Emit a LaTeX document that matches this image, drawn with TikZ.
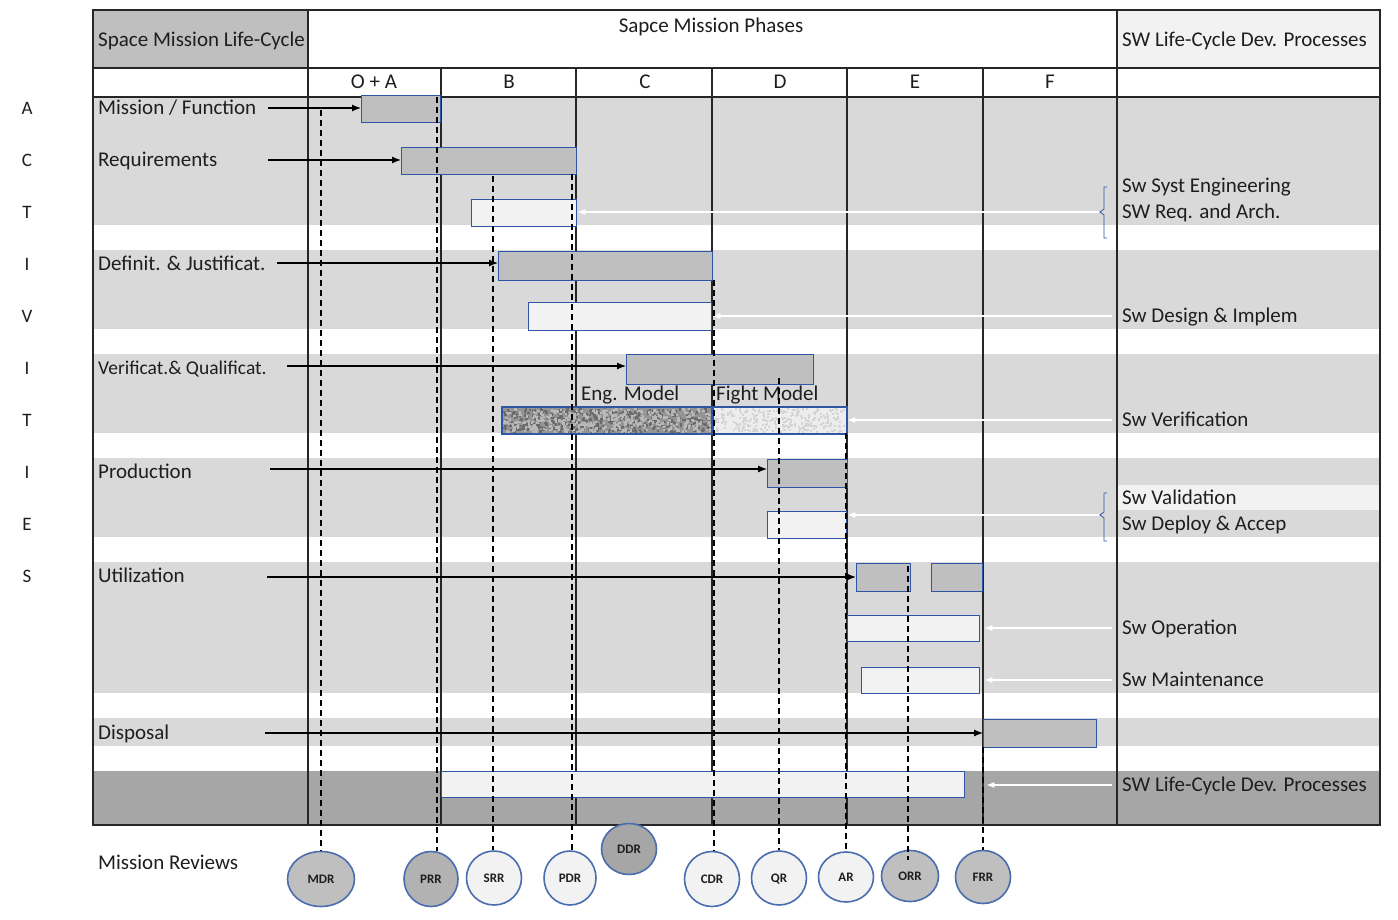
\documentclass[tikz,border=0pt]{standalone}
\usepackage{fontspec}
\setmainfont{Carlito}
\usetikzlibrary{arrows.meta,shapes.geometric}
\definecolor{band}{HTML}{D9D9D9}
\definecolor{bargray}{HTML}{BFBFBF}
\definecolor{darkband}{HTML}{A6A6A6}
\definecolor{lightfill}{HTML}{F2F2F2}
\definecolor{barblue}{HTML}{2F55A4}
\definecolor{circblue}{HTML}{4A6DB0}
\definecolor{txt}{HTML}{1E1E1E}
\begin{document}
\begin{tikzpicture}[x=1pt,y=-1pt,
  every node/.style={font=\fontsize{21}{25}\selectfont, text=txt},
  lbl/.style={anchor=west, inner sep=0pt, text height=13.5pt, text depth=0pt},
  ctr/.style={inner sep=0pt, text height=13.5pt, text depth=0pt},
  letter/.style={ctr, font=\fontsize{19}{22}\selectfont},
  bar/.style={draw=barblue, line width=1.3pt, fill=bargray, anchor=north west, inner sep=0pt},
  lbar/.style={bar, fill=lightfill},
  rev/.style={ellipse, draw=circblue, line width=1.6pt, inner sep=0pt, text height=9pt, text depth=0pt, font=\bfseries\fontsize{13}{15}\selectfont},
  revg/.style={rev, fill=bargray},
  revl/.style={rev, fill=lightfill},
  barrow/.style={line width=1.2pt, -{Latex[length=9pt,width=7pt]}},
  warrow/.style={white, line width=1.1pt, -{Latex[length=8pt,width=6pt]}},
  dline/.style={line width=1.3pt, dash pattern=on 6pt off 4pt},
  tline/.style={line width=1.3pt, draw=black!85},
  brace/.style={draw=barblue, line width=0.8pt},
]
\useasboundingbox (0,0) rectangle (1398,920);
\fill[white] (0,0) rectangle (1398,920);

% bands
\fill[band] (93,97) rectangle (1380,225);
\fill[band] (93,250) rectangle (1380,329);
\fill[band] (93,354) rectangle (1380,433);
\fill[band] (93,458) rectangle (1380,537);
\fill[band] (93,562) rectangle (1380,693);
\fill[band] (93,718) rectangle (1380,746);
\fill[darkband] (93,771) rectangle (1380,825);
\fill[lightfill] (1117,485) rectangle (1380,510);

% header cells
\fill[bargray] (93,10) rectangle (308,68);
\fill[lightfill] (1117,10) rectangle (1380,68);

% table lines
\draw[tline] (93,10) rectangle (1380,825);
\draw[tline] (93,68) -- (1380,68);
\draw[tline] (93,97) -- (1380,97);
\draw[tline] (308,10) -- (308,825);
\draw[tline] (1117,10) -- (1117,825);
\foreach \x in {441,576,712,847,983} \draw[tline] (\x,68) -- (\x,825);

% header texts
\node[lbl] (hsm) at (98,40) {Space Mission Life-Cycle};
\node[ctr] (hph) at (711,26) {Sapce Mission Phases};
\node[lbl] (hsw) at (1122,40) {SW Life-Cycle Dev. Processes};
\node[ctr] (pOA) at (374,82) {O + A};
\node[ctr] (pB) at (509,82) {B};
\node[ctr] (pC) at (645,82) {C};
\node[ctr] (pD) at (780,82) {D};
\node[ctr] (pE) at (915,82) {E};
\node[ctr] (pF) at (1050,82) {F};

% ACTIVITIES letters
\node[letter] (a1) at (27,108) {A};
\node[letter] (a2) at (27,160) {C};
\node[letter] (a3) at (27,212) {T};
\node[letter] (a4) at (27,264) {I};
\node[letter] (a5) at (27,316) {V};
\node[letter] (a6) at (27,368) {I};
\node[letter] (a7) at (27,420) {T};
\node[letter] (a8) at (27,472) {I};
\node[letter] (a9) at (27,524) {E};
\node[letter] (a10) at (27,576) {S};

% activity labels
\node[lbl] (lmf) at (98,108) {Mission / Function};
\node[lbl] (lreq) at (98,160) {Requirements};
\node[lbl] (ldef) at (98,264) {Definit. \& Justificat.};
\node[lbl, font=\fontsize{19.5}{23}\selectfont] (lver) at (98,368) {Verificat.\& Qualificat.};
\node[lbl] (lprod) at (98,472) {Production};
\node[lbl] (luti) at (98,576) {Utilization};
\node[lbl] (ldisp) at (98,733) {Disposal};
\node[lbl] (lrev) at (98,863) {Mission Reviews};

% bars
\node[bar, minimum width=79pt, minimum height=27pt] (bmf) at (361,95) {};
\node[bar, minimum width=175pt, minimum height=27pt] (breq) at (401,147) {};
\node[lbar, minimum width=105pt, minimum height=27pt] (bswreq) at (471,199) {};
\node[bar, minimum width=214pt, minimum height=29pt] (bdef) at (498,251) {};
\node[lbar, minimum width=183pt, minimum height=28pt] (bswdes) at (528,302) {};
\node[bar, minimum width=187pt, minimum height=30pt] (bver) at (626,354) {};
\node[bar, fill=black!42, minimum width=210pt, minimum height=26pt] (beng) at (502,407) {};
\node[lbar, fill=black!7, minimum width=134pt, minimum height=26pt] (bfm) at (712,407) {};
\node[bar, minimum width=80pt, minimum height=28pt] (bprod) at (767,459) {};
\node[lbar, minimum width=79pt, minimum height=27pt] (bswdep) at (767,511) {};
\node[bar, minimum width=54pt, minimum height=28pt] (but1) at (856,563) {};
\node[bar, minimum width=51pt, minimum height=28pt] (but2) at (931,563) {};
\node[lbar, minimum width=132pt, minimum height=26pt] (bswop) at (847,615) {};
\node[lbar, minimum width=118pt, minimum height=26pt] (bswmt) at (861,667) {};
\node[bar, minimum width=113pt, minimum height=28pt] (bdisp) at (983,719) {};
\node[lbar, minimum width=523pt, minimum height=26pt] (bswlc) at (441,771) {};

% textures
\pgfmathsetseed{7}
\foreach \i in {1,...,420}{
  \pgfmathsetmacro{\px}{503+207*rnd}
  \pgfmathsetmacro{\py}{408+23*rnd}
  \fill[black!58] (\px,\py) rectangle ++(2.4,2.4);
}
\foreach \i in {1,...,380}{
  \pgfmathsetmacro{\px}{503+207*rnd}
  \pgfmathsetmacro{\py}{408+23*rnd}
  \fill[black!28] (\px,\py) rectangle ++(2.4,2.4);
}
\foreach \i in {1,...,300}{
  \pgfmathsetmacro{\px}{713+131*rnd}
  \pgfmathsetmacro{\py}{408+23*rnd}
  \fill[black!17] (\px,\py) rectangle ++(2,2);
}
\draw[draw=barblue, line width=1.3pt] (beng.north west) rectangle (beng.south east);
\draw[draw=barblue, line width=1.3pt] (bfm.north west) rectangle (bfm.south east);
\node[lbl] (teng) at (581,394) {Eng. Model};
\node[lbl] (tfm) at (716,394) {Fight Model};

% black arrows
\coordinate (smf) at (268,108);
\coordinate (sreq) at (268,160);
\coordinate (sdef) at (277,263);
\coordinate (sver) at (287,366);
\coordinate (sprod) at (270,469);
\coordinate (suti) at (267,577);
\coordinate (sdisp) at (265,733);
\draw[barrow] (smf) -- (smf -| bmf.west);
\draw[barrow] (sreq) -- (sreq -| breq.west);
\draw[barrow] (sdef) -- (sdef -| bdef.west);
\draw[barrow] (sver) -- (sver -| bver.west);
\draw[barrow] (sprod) -- (sprod -| bprod.west);
\draw[barrow] (suti) -- (suti -| but1.west);
\draw[barrow] (sdisp) -- (sdisp -| bdisp.west);

% right labels
\node[lbl] (rse) at (1122,186) {Sw Syst Engineering};
\node[lbl] (rra) at (1122,212) {SW Req. and Arch.};
\node[lbl] (rdi) at (1122,316) {Sw Design \& Implem};
\node[lbl] (rve) at (1122,420) {Sw Verification};
\node[lbl] (rva) at (1122,498) {Sw Validation};
\node[lbl] (rde) at (1122,524) {Sw Deploy \& Accep};
\node[lbl] (rop) at (1122,628) {Sw Operation};
\node[lbl] (rma) at (1122,680) {Sw Maintenance};
\node[lbl] (rlc) at (1122,785) {SW Life-Cycle Dev. Processes};

% braces
\draw[brace] (1107,187) -- (1104,187) -- (1104,209) -- (1100,212) -- (1104,215) -- (1104,238) -- (1107,238);
\draw[brace] (1107,493) -- (1104,493) -- (1104,512) -- (1100,515) -- (1104,518) -- (1104,541) -- (1107,541);

% white arrows
\coordinate (wra) at (1099,212);
\coordinate (wdi) at (1112,316);
\coordinate (wve) at (1112,420);
\coordinate (wde) at (1099,515);
\coordinate (wop) at (1112,628);
\coordinate (wma) at (1112,680);
\coordinate (wlc) at (1112,785);
\draw[warrow] (wra) -- (wra -| bswreq.east);
\draw[warrow] (wdi) -- (wdi -| bswdes.east);
\draw[warrow] (wve) -- (wve -| bfm.east);
\draw[warrow] (wde) -- (wde -| bswdep.east);
\draw[warrow] (wop) -- ([xshift=4pt]wop -| bswop.east);
\draw[warrow] (wma) -- ([xshift=4pt]wma -| bswmt.east);
\draw[warrow] (wlc) -- ([xshift=21pt]wlc -| bswlc.east);

% review circles
\node[revg, minimum width=67pt, minimum height=55pt] (mdr) at (321,879) {MDR};
\node[revg, fill=black!30, minimum width=54pt, minimum height=55pt] (prr) at (431,879) {PRR};
\node[revl, minimum width=55pt, minimum height=54pt] (srr) at (494,878) {SRR};
\node[revl, minimum width=52pt, minimum height=54pt] (pdr) at (570,878) {PDR};
\node[revg, fill=darkband, minimum width=55pt, minimum height=51pt] (ddr) at (629,849) {DDR};
\node[revl, minimum width=55pt, minimum height=55pt] (cdr) at (712,879) {CDR};
\node[revl, minimum width=55pt, minimum height=54pt] (qr) at (779,878) {QR};
\node[revl, minimum width=55pt, minimum height=50pt] (ar) at (846,877) {AR};
\node[revg, minimum width=57pt, minimum height=51pt] (orr) at (910,876) {ORR};
\node[revg, minimum width=55pt, minimum height=53pt] (frr) at (983,877) {FRR};

% dashed milestone lines
\coordinate (dmdr) at (321,110);
\coordinate (dprr) at (437,97);
\coordinate (dsrr) at (493,176);
\coordinate (dpdr) at (572,174);
\coordinate (dcdr) at (714,280);
\coordinate (dqr) at (779,378);
\coordinate (dar) at (846,433);
\coordinate (dorr) at (908,566);
\coordinate (dfrr) at (983,747);
\draw[dline] (dmdr) -- (dmdr |- mdr.north);
\draw[dline] (dprr) -- (dprr |- prr.north);
\draw[dline] (dsrr) -- (dsrr |- srr.north);
\draw[dline] (dpdr) -- (dpdr |- pdr.north);
\draw[dline] (dcdr) -- (dcdr |- cdr.north);
\draw[dline] (dqr) -- (dqr |- qr.north);
\draw[dline] (dar) -- (dar |- ar.north);
\draw[dline] (dorr) -- ([yshift=-10pt]dorr |- orr.north);
\draw[dline] (dfrr) -- (dfrr |- frr.north);
\end{tikzpicture}
\end{document}
